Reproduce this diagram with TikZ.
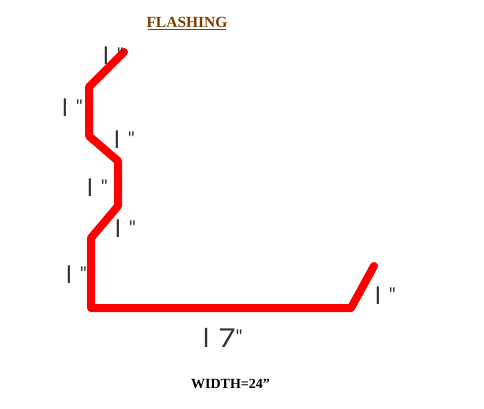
\documentclass[tikz,border=0pt]{standalone}
\usepackage{fontspec}
\setmainfont{Liberation Serif}
\newfontfamily\thinfont{Lato}
\definecolor{flashred}{RGB}{255,0,0}
\definecolor{flashbrown}{RGB}{122,62,0}
\definecolor{dimgrey}{RGB}{50,50,50}
\tikzset{
  dimlabel/.style={anchor=base west,inner sep=0pt,text=dimgrey,font=\thinfont\fontsize{24}{24}\selectfont},
  biglabel/.style={anchor=base west,inner sep=0pt,text=dimgrey,font=\thinfont\fontsize{26}{26}\selectfont},
  capt/.style={anchor=base,inner sep=0pt,font=\bfseries\fontsize{14}{14}\selectfont},
  profile/.style={draw=flashred,line width=8pt,line join=round,line cap=round}
}
\newcommand{\inchmark}{l\hspace{8pt}{\fontsize{19}{19}\selectfont\raisebox{3pt}{"}}}
\begin{document}
\begin{tikzpicture}[x=1pt,y=-1pt]
\useasboundingbox (0,0) rectangle (484,408);
\coordinate (p1) at (124,52);
\coordinate (p2) at (89,87);
\coordinate (p3) at (89,136);
\coordinate (p4) at (118,161);
\coordinate (p5) at (118,206);
\coordinate (p6) at (91,238);
\coordinate (p7) at (91,308);
\coordinate (p8) at (351,308);
\coordinate (p9) at (374,266);
\draw[profile] (p1) -- (p2) -- (p3) -- (p4) -- (p5) -- (p6) -- (p7) -- (p8) -- (p9);
\node[capt,text=flashbrown,font=\bfseries\fontsize{15.5}{15.5}\selectfont] (title) at (187,27) {FLASHING};
\draw[flashbrown,line width=1pt] (148,29.5) -- (226,29.5);
\node[dimlabel] (a) at (103,64) {\inchmark};
\node[dimlabel] (b) at (62,116) {\inchmark};
\node[dimlabel] (c) at (114,148) {\inchmark};
\node[dimlabel] (d) at (87,196) {\inchmark};
\node[dimlabel] (e) at (115,237) {\inchmark};
\node[dimlabel] (f) at (66,283) {\inchmark};
\node[dimlabel] (g) at (375,304) {\inchmark};
\node[biglabel] (h) at (203,347) {l\hspace{9pt}\scalebox{1.15}[1]{7}\hspace{0pt}{\fontsize{19}{19}\selectfont\raisebox{4pt}{"}}};
\node[capt,text=black] (w) at (230.5,388) {WIDTH=24"};
\end{tikzpicture}
\end{document}
